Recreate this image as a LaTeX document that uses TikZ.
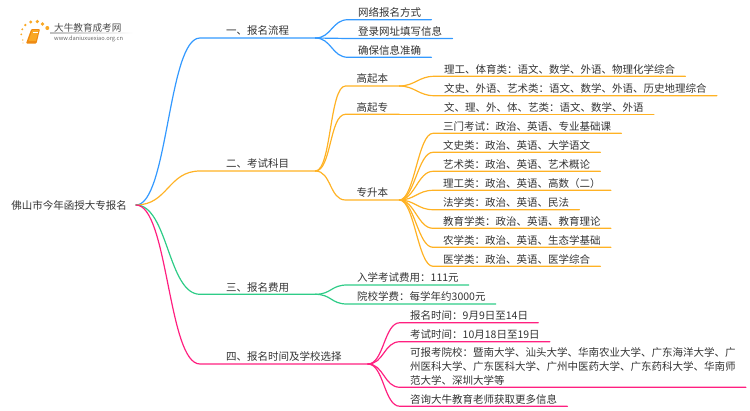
\documentclass[tikz,border=0pt]{standalone}
\usepackage{fontspec}
\setmainfont{Noto Sans CJK SC}
\definecolor{lineblue}{HTML}{3399FF}
\definecolor{lineorange}{HTML}{FFB224}
\definecolor{linegreen}{HTML}{2ECC87}
\definecolor{linepink}{HTML}{FF2080}
\definecolor{booktop}{HTML}{F9A825}
\definecolor{bookside}{HTML}{EE8A12}
\definecolor{inktext}{HTML}{333333}
\tikzset{
	label/.style={anchor=south west, text=inktext, font=\fontsize{10.5}{13.7}\selectfont, text height=9.2, text depth=0.6, inner ysep=2.4},
	item/.style={label, inner xsep=10},
	topic/.style={label, inner xsep=26},
	link/.style={line width=1.2, line cap=round},
	logodot/.style={fill=booktop, draw=none}
}
\begin{document}
\begin{tikzpicture}[x=1pt, y=-1pt]
	\useasboundingbox ( 0, 0 ) rectangle ( 750, 410 );

	% логотип
	\fill [logodot, opacity=0.6] ( 23.0, 43.0 ) circle ( 0.7 );
	\fill [logodot, opacity=0.7] ( 22.7, 40.0 ) circle ( 0.9 );
	\fill [logodot] ( 21.3, 34.3 ) circle ( 1.0 );
	\fill [logodot] ( 22.3, 29.3 ) circle ( 1.1 );
	\fill [logodot] ( 25.3, 25.0 ) circle ( 1.3 );
	\fill [logodot] ( 30.7, 22.0 ) circle ( 1.6 );
	\fill [logodot] ( 37.3, 21.5 ) circle ( 1.8 );
	\fill [logodot] ( 42.5, 24.0 ) circle ( 1.8 );
	\fill [logodot] ( 47.3, 28.0 ) circle ( 2.0 );
	\fill [bookside, rounded corners=1] ( 31.3, 29.0 ) -- ( 40.0, 29.0 ) -- ( 36.5, 43.5 ) -- ( 26.0, 43.5 ) -- cycle;
	\fill [booktop] ( 32.2, 30.0 ) -- ( 38.8, 30.0 ) -- ( 35.8, 41.0 ) -- ( 28.5, 41.0 ) -- cycle;
	\draw [white, line width=0.5] ( 33.0, 32.2 ) -- ( 38.0, 32.2 );
	\shade [left color=black!25, right color=white] ( 50, 32.8 ) rectangle ( 133, 33.4 );
	\node (logotitle) [anchor=west, inner sep=0, text=black!70, font=\fontsize{9.6}{10}\selectfont] at ( 54, 27.5 ) {大牛教育成考网};
	\node (logourl) [anchor=west, inner sep=0, text=black!60, font=\fontsize{5.7}{7}\selectfont] at ( 54, 38.5 ) {www.daniuxuexiao.org.cn};

	% центр
	\node (root) [label, inner xsep=9, anchor=east] at ( 136, 205 ) {佛山市今年函授大专报名};

	% ветвь 1
	\node (one) [topic] at ( 200, 38 ) {一、报名流程};
	\node (oneA) [item] at ( 348, 19.7 ) {网络报名方式};
	\node (oneB) [item] at ( 348, 38.5 ) {登录网址填写信息};
	\node (oneC) [item] at ( 348, 57.3 ) {确保信息准确};
	\draw [link, lineblue] (root.east) .. controls +( 32, 0 ) and +( -32, 0 ) .. (one.south west) -- (one.south east);
	\draw [link, lineblue] (one.south east) .. controls +( 16, 0 ) and +( -16, 0 ) .. (oneA.south west) -- (oneA.south east);
	\draw [link, lineblue] (one.south east) .. controls +( 16, 0 ) and +( -16, 0 ) .. (oneB.south west) -- (oneB.south east);
	\draw [link, lineblue] (one.south east) .. controls +( 16, 0 ) and +( -16, 0 ) .. (oneC.south west) -- (oneC.south east);

	% ветвь 2
	\node (two) [topic] at ( 200, 171 ) {二、考试科目};
	\node (twoA) [item, inner xsep=11] at ( 345.5, 86 ) {高起本};
	\node (twoB) [item, inner xsep=11] at ( 345.5, 114.3 ) {高起专};
	\node (twoC) [item, inner xsep=11] at ( 345.5, 200 ) {专升本};
	\draw [link, lineorange] (root.east) .. controls +( 32, 0 ) and +( -32, 0 ) .. (two.south west) -- (two.south east);
	\draw [link, lineorange] (two.south east) .. controls +( 16, 0 ) and +( -16, 0 ) .. (twoA.south west) -- (twoA.south east);
	\draw [link, lineorange] (two.south east) .. controls +( 16, 0 ) and +( -16, 0 ) .. (twoB.south west) -- (twoB.south east);
	\draw [link, lineorange] (two.south east) .. controls +( 16, 0 ) and +( -16, 0 ) .. (twoC.south west) -- (twoC.south east);

	% высшая ступень
	\node (twoAa) [item] at ( 434, 76.3 ) {理工、体育类：语文、数学、外语、物理化学综合};
	\node (twoAb) [item] at ( 434, 95.7 ) {文史、外语、艺术类：语文、数学、外语、历史地理综合};
	\node (twoBa) [item] at ( 434, 114.3 ) {文、理、外、体、艺类：语文、数学、外语};
	\draw [link, lineorange] (twoA.south east) .. controls +( 15, 0 ) and +( -15, 0 ) .. (twoAa.south west) -- (twoAa.south east);
	\draw [link, lineorange] (twoA.south east) .. controls +( 15, 0 ) and +( -15, 0 ) .. (twoAb.south west) -- (twoAb.south east);
	\draw [link, lineorange] (twoB.south east) -- (twoBa.south west) -- (twoBa.south east);

	% профили
	\node (twoCa) [item] at ( 433, 133.3 ) {三门考试：政治、英语、专业基础课};
	\node (twoCb) [item] at ( 433, 152.3 ) {文史类：政治、英语、大学语文};
	\node (twoCc) [item] at ( 433, 171.3 ) {艺术类：政治、英语、艺术概论};
	\node (twoCd) [item] at ( 433, 190.3 ) {理工类：政治、英语、高数（二）};
	\node (twoCe) [item] at ( 433, 209.7 ) {法学类：政治、英语、民法};
	\node (twoCf) [item] at ( 433, 228.3 ) {教育学类：政治、英语、教育理论};
	\node (twoCg) [item] at ( 433, 247.3 ) {农学类：政治、英语、生态学基础};
	\node (twoCh) [item] at ( 433, 266.3 ) {医学类：政治、英语、医学综合};
	\draw [link, lineorange] (twoC.south east) .. controls +( 15, 0 ) and +( -15, 0 ) .. (twoCa.south west) -- (twoCa.south east);
	\draw [link, lineorange] (twoC.south east) .. controls +( 15, 0 ) and +( -15, 0 ) .. (twoCb.south west) -- (twoCb.south east);
	\draw [link, lineorange] (twoC.south east) .. controls +( 15, 0 ) and +( -15, 0 ) .. (twoCc.south west) -- (twoCc.south east);
	\draw [link, lineorange] (twoC.south east) .. controls +( 15, 0 ) and +( -15, 0 ) .. (twoCd.south west) -- (twoCd.south east);
	\draw [link, lineorange] (twoC.south east) .. controls +( 15, 0 ) and +( -15, 0 ) .. (twoCe.south west) -- (twoCe.south east);
	\draw [link, lineorange] (twoC.south east) .. controls +( 15, 0 ) and +( -15, 0 ) .. (twoCf.south west) -- (twoCf.south east);
	\draw [link, lineorange] (twoC.south east) .. controls +( 15, 0 ) and +( -15, 0 ) .. (twoCg.south west) -- (twoCg.south east);
	\draw [link, lineorange] (twoC.south east) .. controls +( 15, 0 ) and +( -15, 0 ) .. (twoCh.south west) -- (twoCh.south east);

	% ветвь 3
	\node (three) [topic] at ( 200, 294.3 ) {三、报名费用};
	\node (threeA) [item] at ( 347, 285 ) {入学考试费用：111元};
	\node (threeB) [item] at ( 347, 304 ) {院校学费：每学年约3000元};
	\draw [link, linegreen] (root.east) .. controls +( 32, 0 ) and +( -32, 0 ) .. (three.south west) -- (three.south east);
	\draw [link, linegreen] (three.south east) .. controls +( 16, 0 ) and +( -16, 0 ) .. (threeA.south west) -- (threeA.south east);
	\draw [link, linegreen] (three.south east) .. controls +( 16, 0 ) and +( -16, 0 ) .. (threeB.south west) -- (threeB.south east);

	% ветвь 4
	\node (four) [topic] at ( 200, 364 ) {四、报名时间及学校选择};
	\node (fourA) [item] at ( 400, 322.7 ) {报名时间：9月9日至14日};
	\node (fourB) [item] at ( 400, 341.7 ) {考试时间：10月18日至19日};
	\node (fourC) [item, align=left] at ( 400, 387.3 ) {可报考院校：暨南大学、汕头大学、华南农业大学、广东海洋大学、广\\州医科大学、广东医科大学、广州中医药大学、广东药科大学、华南师\\范大学、深圳大学等};
	\node (fourD) [item] at ( 400, 406.3 ) {咨询大牛教育老师获取更多信息};
	\draw [link, linepink] (root.east) .. controls +( 32, 0 ) and +( -32, 0 ) .. (four.south west) -- (four.south east);
	\draw [link, linepink] (four.south east) .. controls +( 16, 0 ) and +( -16, 0 ) .. (fourA.south west) -- (fourA.south east);
	\draw [link, linepink] (four.south east) .. controls +( 16, 0 ) and +( -16, 0 ) .. (fourB.south west) -- (fourB.south east);
	\draw [link, linepink] (four.south east) .. controls +( 16, 0 ) and +( -16, 0 ) .. (fourC.south west) -- (fourC.south east);
	\draw [link, linepink] (four.south east) .. controls +( 16, 0 ) and +( -16, 0 ) .. (fourD.south west) -- (fourD.south east);
\end{tikzpicture}
\end{document}
